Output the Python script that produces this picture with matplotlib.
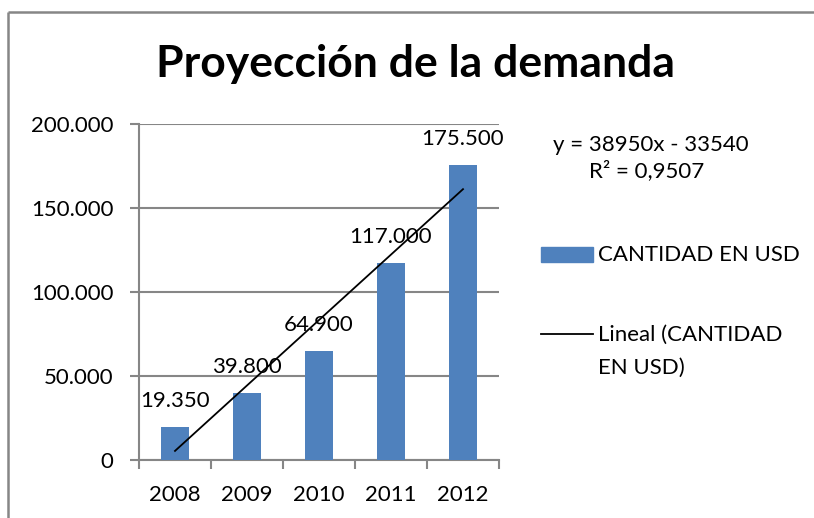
import matplotlib
matplotlib.use("Agg")
import matplotlib.pyplot as plt
import numpy as np
from matplotlib.patches import Rectangle
from matplotlib.lines import Line2D

years = ["2008", "2009", "2010", "2011", "2012"]
values = [19350, 39800, 64900, 117000, 175500]
value_labels = ["19.350", "39.800", "64.900", "117.000", "175.500"]
slope = 38950
intercept = -33540
r2_text = "R² = 0,9507"
eq_text = "y = 38950x - 33540"
yticks = [0, 50000, 100000, 150000, 200000]
ytick_labels = ["0", "50.000", "100.000", "150.000", "200.000"]
series_name = "CANTIDAD EN USD"
trend_name_lines = ["Lineal (CANTIDAD", "EN USD)"]

plt.rcParams['font.family'] = ['Lato', 'DejaVu Sans']
W, H = 814, 518
fig = plt.figure(figsize=(W/100, H/100), dpi=100)
gray = '#868686'
blue = '#4F81BD'

def fx(px):
    return px / W

def fy(py):
    return 1 - py / H

# outer frame (left and top edges visible)
fig.add_artist(Line2D([fx(8), fx(8)], [-0.05, fy(12)], transform=fig.transFigure, color=gray,
                      lw=1.8, solid_capstyle='butt'))
fig.add_artist(Line2D([fx(8), 1.05], [fy(12), fy(12)], transform=fig.transFigure, color=gray,
                      lw=1.8, solid_capstyle='butt'))

ax = fig.add_axes([fx(139), fy(460), (499 - 139)/W, (460 - 124)/H])
x = np.arange(1, len(years) + 1)
ax.bar(x, values, width=0.4, color=blue, zorder=3)
trend = slope * x + intercept
ax.plot(x, trend, color='black', lw=1.3, zorder=4)

for xi, v, lab in zip(x, values, value_labels):
    ax.annotate(lab, (xi, v), xytext=(0, 26), textcoords='offset pixels',
                ha='center', va='center', fontsize=16, zorder=5)

ax.set_xlim(0.5, len(years) + 0.5)
ax.set_ylim(0, 200000)
ax.set_yticks(yticks)
ax.set_yticklabels(ytick_labels, fontsize=16)
ax.yaxis.grid(True, color=gray, lw=1.5, zorder=0)
ax.set_xticks(np.arange(0.5, len(years) + 1, 1))
ax.set_xticklabels([])
ax.set_xticks(x, minor=True)
ax.set_xticklabels(years, minor=True, fontsize=16)
ax.tick_params(axis='x', which='minor', length=0, pad=18)
ax.tick_params(axis='x', which='major', length=6.5, width=1.5, color=gray)
ax.tick_params(axis='y', length=6.5, width=1.5, color=gray, pad=12)
for s in ['top', 'right']:
    ax.spines[s].set_visible(False)
for s in ['left', 'bottom']:
    ax.spines[s].set_color(gray)
    ax.spines[s].set_linewidth(1.5)

fig.text(fx(416), fy(77), "Proyección de la demanda", ha='center', va='baseline',
         fontsize=32, fontweight='bold')

fig.text(fx(651), fy(145), eq_text, ha='center', va='center', fontsize=16)
fig.text(fx(647), fy(171), r2_text, ha='center', va='center', fontsize=16)

# legend drawn manually
fig.add_artist(Rectangle((fx(541), fy(262)), (593 - 541)/W, (262 - 247)/H,
                         transform=fig.transFigure, color=blue))
fig.text(fx(598), fy(255), series_name, ha='left', va='center', fontsize=16)
fig.add_artist(Line2D([fx(541), fx(593)], [fy(334), fy(334)], transform=fig.transFigure,
                      color='black', lw=1.3))
for i, line in enumerate(trend_name_lines):
    fig.text(fx(598), fy(335 + 33 * i), line, ha='left', va='center', fontsize=16)

fig.savefig("out.png", dpi=100)
